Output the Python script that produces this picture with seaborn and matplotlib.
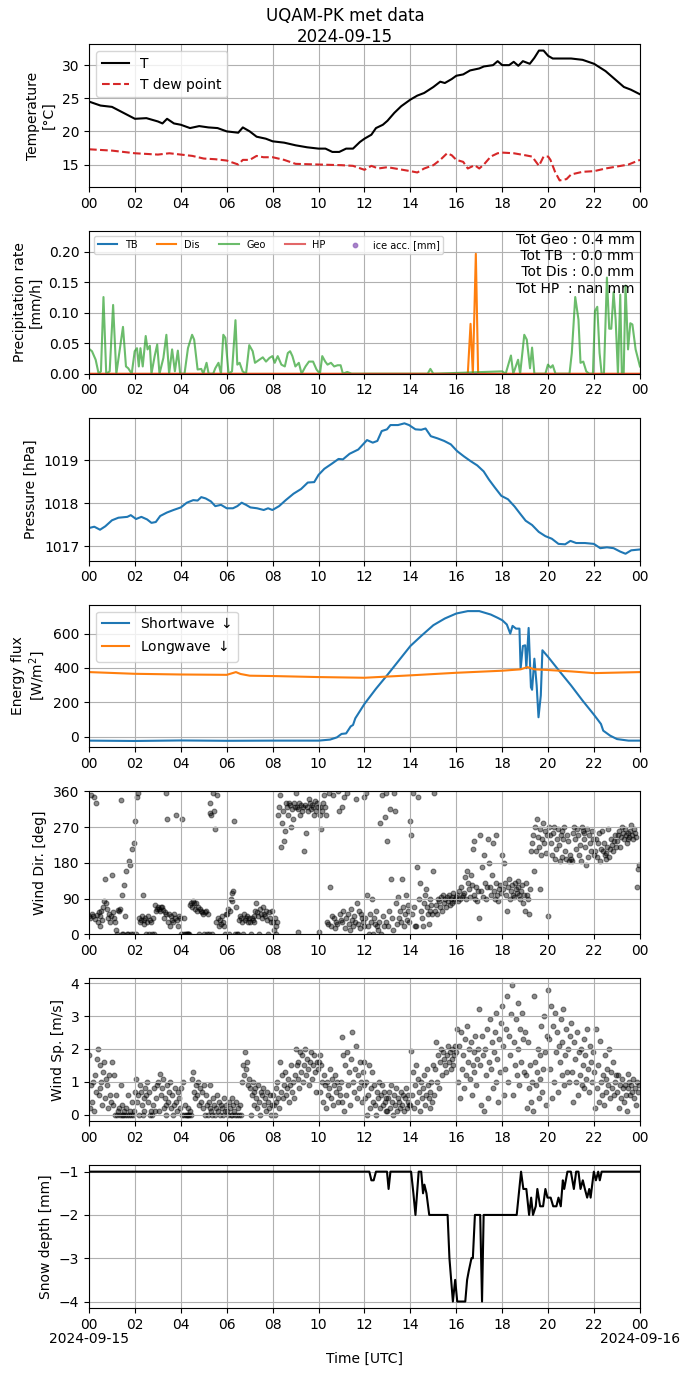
import numpy as np
import pandas as pd
import matplotlib
matplotlib.use("Agg")
import matplotlib.pyplot as plt
import matplotlib.dates as mdates
import matplotlib.transforms as mtransforms
import seaborn as sns

plt.rcParams['font.family'] = ['DejaVu Sans']

DAY = pd.Timestamp("2024-09-15")
TITLE = "UQAM-PK met data\n2024-09-15"
END_DATES = ["2024-09-15", "2024-09-16"]

# ---------------- Temperature (hour, value) ----------------
temp_pts = [(0, 24.5), (0.5, 23.9), (1, 23.7), (1.5, 22.8), (2, 21.9), (2.5, 22.0), (3, 21.5),
            (3.2, 21.2), (3.4, 21.9), (3.7, 21.2), (4, 21.0), (4.4, 20.5), (4.8, 20.8), (5.2, 20.6),
            (5.6, 20.5), (6.0, 20.0), (6.5, 19.8), (6.7, 20.6), (7.0, 20.0), (7.3, 19.2), (7.7, 18.9),
            (8.0, 18.5), (8.5, 18.3), (9.0, 17.9), (9.5, 17.6), (10.0, 17.4), (10.3, 17.4), (10.6, 16.9),
            (10.9, 16.9), (11.2, 17.4), (11.5, 17.4), (11.8, 18.4), (12.0, 18.9), (12.3, 19.5),
            (12.5, 20.5), (12.8, 21.0), (13.0, 21.6), (13.3, 22.8), (13.6, 23.8), (14.0, 24.8),
            (14.3, 25.4), (14.6, 25.8), (15.0, 26.7), (15.3, 27.5), (15.5, 27.3), (15.8, 27.9),
            (16.0, 28.4), (16.3, 28.6), (16.6, 29.2), (17.0, 29.5), (17.2, 29.8), (17.6, 30.0),
            (17.8, 30.6), (18.0, 30.0), (18.3, 30.0), (18.5, 30.5), (18.7, 29.9), (18.9, 30.6),
            (19.2, 30.2), (19.4, 31.1), (19.6, 32.2), (19.8, 32.2), (20.0, 31.4), (20.2, 31.0),
            (20.5, 31.0), (21.0, 31.0), (21.5, 30.8), (22.0, 30.2), (22.5, 29.1), (23.0, 27.6),
            (23.3, 26.7), (23.6, 26.3), (24.0, 25.6)]
dew_pts = [(0, 17.3), (0.5, 17.2), (1, 17.1), (2, 16.7), (3, 16.5), (3.5, 16.7), (4, 16.5), (4.5, 16.3),
           (5, 15.9), (5.5, 15.8), (6, 15.6), (6.5, 15.0), (6.7, 15.7), (7, 15.7), (7.3, 16.3),
           (7.6, 16.1), (8, 16.1), (8.5, 15.7), (9, 15.1), (10, 15.0), (11, 14.9), (11.5, 14.8),
           (12, 14.2), (12.3, 14.8), (12.6, 14.4), (13, 14.6), (13.5, 14.3), (14, 14.0), (14.3, 13.8),
           (14.6, 14.4), (15, 14.9), (15.3, 15.7), (15.6, 16.7), (15.8, 16.4), (16, 15.7), (16.3, 15.4),
           (16.5, 14.4), (16.8, 14.9), (17.0, 14.4), (17.2, 15.0), (17.5, 16.2), (17.8, 16.7),
           (18, 16.8), (18.5, 16.7), (19, 16.4), (19.3, 16.2), (19.6, 14.8), (19.8, 16.2), (20, 16.2),
           (20.1, 15.7), (20.3, 13.9), (20.5, 12.6), (20.8, 12.8), (21, 13.5), (21.5, 13.9), (22, 14.0),
           (22.5, 14.4), (23, 14.7), (23.5, 15.0), (24, 15.7)]

# ---------------- Precipitation rate (hour, mm/h) ----------------
tb_pts = [(0, 0.0), (24, 0.0)]
hp_pts = [(0, 0.0), (24, 0.0)]
dis_pts = [(0, 0.0), (16.5, 0.0), (16.62, 0.082), (16.72, 0.0), (16.85, 0.197), (16.95, 0.0), (24, 0.0)]
geo_pts = [(0.00, 0.041), (0.13, 0.037), (0.29, 0.023), (0.42, 0.0), (0.52, 0.004), (0.63, 0.126),
           (0.75, 0.0), (0.90, 0.004), (1.05, 0.113), (1.19, 0.0), (1.32, 0.034), (1.48, 0.077),
           (1.61, 0.012), (1.71, 0.009), (1.86, 0.0), (1.99, 0.037), (2.09, 0.042), (2.17, 0.012),
           (2.24, 0.042), (2.34, 0.012), (2.47, 0.062), (2.55, 0.040), (2.65, 0.046), (2.72, 0.0),
           (2.86, 0.029), (2.97, 0.048), (3.07, 0.0), (3.24, 0.026), (3.37, 0.064), (3.49, 0.0),
           (3.62, 0.040), (3.74, 0.004), (3.87, 0.038), (3.97, 0.0), (4.16, 0.0), (4.31, 0.042),
           (4.49, 0.064), (4.58, 0.056), (4.73, 0.007), (4.89, 0.008), (4.98, 0.0), (5.12, 0.018),
           (5.21, 0.0), (5.41, 0.0), (5.50, 0.009), (5.64, 0.018), (5.75, 0.0), (5.85, 0.064),
           (5.94, 0.059), (6.08, 0.0), (6.23, 0.004), (6.38, 0.088), (6.46, 0.015), (6.56, 0.018),
           (6.69, 0.004), (6.84, 0.0), (6.98, 0.047), (7.13, 0.037), (7.23, 0.018), (7.42, 0.023),
           (7.57, 0.027), (7.71, 0.020), (7.86, 0.026), (7.99, 0.029), (8.09, 0.018), (8.22, 0.029),
           (8.38, 0.015), (8.53, 0.012), (8.66, 0.034), (8.76, 0.037), (8.86, 0.029), (8.99, 0.012),
           (9.14, 0.018), (9.26, 0.0), (9.43, 0.012), (9.58, 0.020), (9.76, 0.020), (9.91, 0.007),
           (10.06, 0.0), (10.16, 0.029), (10.29, 0.020), (10.39, 0.015), (10.54, 0.018), (10.68, 0.012),
           (10.83, 0.014), (10.96, 0.014), (11.06, 0.0), (11.25, 0.003), (11.44, 0.0), (14.75, 0.0),
           (14.87, 0.008), (15.0, 0.0), (18.0, 0.004), (18.15, 0.0), (18.38, 0.030), (18.48, 0.0),
           (18.69, 0.023), (18.78, 0.0), (18.96, 0.064), (19.07, 0.056), (19.21, 0.009), (19.30, 0.043),
           (19.40, 0.0), (19.88, 0.0), (19.99, 0.015), (20.11, 0.010), (20.20, 0.014), (20.32, 0.0),
           (20.93, 0.0), (21.03, 0.034), (21.18, 0.126), (21.32, 0.089), (21.41, 0.018), (21.53, 0.020),
           (21.66, 0.004), (21.79, 0.0), (21.95, 0.0), (22.04, 0.103), (22.14, 0.110), (22.24, 0.034),
           (22.33, 0.0), (22.43, 0.0), (22.56, 0.158), (22.66, 0.074), (22.75, 0.074), (22.85, 0.134),
           (22.94, 0.089), (23.04, 0.0), (23.14, 0.130), (23.21, 0.0), (23.29, 0.0), (23.37, 0.145),
           (23.48, 0.040), (23.58, 0.083), (23.67, 0.081), (23.81, 0.040), (24.0, 0.012)]
totals_text = "Tot Geo : 0.4 mm\n Tot TB  : 0.0 mm\n Tot Dis : 0.0 mm\nTot HP  : nan mm"

# ---------------- Pressure (hour, hPa) ----------------
pres_pts = [(0, 1017.42), (0.23, 1017.45), (0.48, 1017.38), (0.71, 1017.46), (1, 1017.60), (1.28, 1017.66),
            (1.67, 1017.68), (1.82, 1017.72), (2.05, 1017.63), (2.28, 1017.68), (2.53, 1017.62),
            (2.72, 1017.54), (2.91, 1017.56), (3.1, 1017.70), (3.39, 1017.78), (3.68, 1017.84),
            (4, 1017.90), (4.26, 1018.01), (4.54, 1018.07), (4.73, 1018.06), (4.89, 1018.14),
            (5.08, 1018.11), (5.31, 1018.04), (5.5, 1017.93), (5.75, 1017.96), (6, 1017.88),
            (6.27, 1017.88), (6.46, 1017.93), (6.65, 1018.01), (6.84, 1017.96), (7.03, 1017.90),
            (7.32, 1017.88), (7.61, 1017.84), (7.8, 1017.88), (7.99, 1017.84), (8.28, 1017.93),
            (8.57, 1018.07), (8.91, 1018.22), (9.24, 1018.33), (9.53, 1018.48), (9.81, 1018.49),
            (10, 1018.66), (10.25, 1018.80), (10.58, 1018.92), (10.87, 1019.03), (11.06, 1019.02),
            (11.35, 1019.15), (11.73, 1019.25), (12.11, 1019.47), (12.36, 1019.41), (12.56, 1019.45),
            (12.75, 1019.68), (12.98, 1019.72), (13.13, 1019.82), (13.46, 1019.82), (13.74, 1019.86),
            (13.94, 1019.82), (14.22, 1019.72), (14.47, 1019.71), (14.66, 1019.74), (14.89, 1019.56),
            (15.18, 1019.51), (15.47, 1019.45), (15.76, 1019.37), (16.04, 1019.21), (16.33, 1019.09),
            (16.62, 1018.98), (16.91, 1018.88), (17.19, 1018.74), (17.42, 1018.55), (17.67, 1018.37),
            (17.96, 1018.17), (18.25, 1018.09), (18.54, 1017.92), (18.77, 1017.76), (19.02, 1017.59),
            (19.3, 1017.49), (19.59, 1017.33), (19.88, 1017.23), (20.16, 1017.17), (20.45, 1017.05),
            (20.74, 1017.04), (20.97, 1017.12), (21.22, 1017.07), (21.6, 1017.07), (21.99, 1017.05),
            (22.27, 1016.95), (22.56, 1016.97), (22.85, 1016.95), (23.14, 1016.87), (23.37, 1016.82),
            (23.62, 1016.90), (24, 1016.92)]

# ---------------- Radiation (hour, W/m2) ----------------
sw_pts = [(0, -23), (2, -25), (4, -22), (6, -24), (8, -23), (10, -23), (10.5, -17), (10.8, -4), (11, 16),
          (11.2, 19), (11.4, 60), (11.5, 68), (11.6, 107), (12, 191), (12.5, 279), (13, 360), (13.5, 444),
          (14, 528), (14.5, 590), (15, 649), (15.5, 688), (16, 717), (16.5, 731), (17, 731), (17.5, 711),
          (17.8, 692), (18, 678), (18.2, 653), (18.35, 600), (18.45, 645), (18.6, 629), (18.75, 629),
          (18.8, 395), (18.9, 528), (19.0, 532), (19.05, 399), (19.15, 633), (19.25, 288), (19.3, 273),
          (19.4, 454), (19.5, 298), (19.58, 113), (19.68, 240), (19.75, 503), (20, 464), (20.5, 380),
          (21, 298), (21.5, 210), (22, 127), (22.3, 74), (22.4, 35), (22.7, 6), (23, -14), (23.5, -23),
          (24, -23)]
lw_pts = [(0, 376), (2, 366), (4, 362), (6, 360), (6.4, 376), (6.6, 365), (7, 355), (8, 353), (10, 347),
          (12, 343), (14, 357), (16, 372), (18, 384), (18.8, 392), (19.1, 405), (19.4, 392), (20, 388),
          (21, 380), (22, 370), (24, 376)]

# ---------------- Wind: samples per hour (evenly spaced within each hour) ----------------
wdir_by_hour = [
    [45, 40, 352, 50, 45, 345, 38, 330, 48, 30, 55, 20, 45, 60, 35, 70, 85, 140, 80, 65, 40, 50, 30, 45],
    [150, 55, 40, 30, 10, 0, 62, 60, 65, 338, 0, 100, 0, 125, 45, 160, 0, 0, 185, 175, 0, 215, 0, 230],
    [285, 0, 345, 355, 40, 30, 35, 45, 100, 35, 25, 40, 0, 30, 45, 0, 35, 30, 0, 40, 0, 75, 60, 65],
    [70, 65, 60, 70, 68, 62, 40, 55, 50, 355, 290, 30, 50, 20, 45, 35, 30, 50, 40, 300, 35, 20, 45, 40],
    [0, 290, 0, 40, 0, 0, 0, 0, 0, 0, 75, 80, 70, 85, 78, 65, 80, 60, 70, 0, 65, 60, 55, 50],
    [0, 55, 60, 0, 50, 0, 305, 330, 300, 0, 355, 310, 265, 30, 350, 40, 20, 35, 25, 45, 30, 20, 0, 50],
    [50, 65, 0, 60, 90, 85, 105, 110, 285, 0, 70, 0, 0, 35, 45, 40, 30, 0, 50, 35, 40, 45, 30, 40],
    [30, 0, 40, 35, 45, 30, 60, 80, 55, 45, 0, 65, 50, 40, 70, 50, 45, 60, 35, 0, 55, 40, 30, 60],
    [30, 10, 40, 20, 0, 30, 300, 320, 350, 220, 280, 310, 235, 260, 330, 320, 300, 330, 325, 270, 315, 290, 330, 320],
    [355, 320, 315, 5, 330, 300, 325, 310, 320, 210, 325, 255, 320, 310, 340, 330, 315, 325, 320, 300, 335, 310, 330, 320],
    [5, 320, 300, 265, 310, 330, 350, 320, 300, 30, 25, 355, 120, 20, 45, 350, 40, 15, 30, 25, 360, 310, 50, 35],
    [320, 30, 60, 345, 15, 40, 355, 50, 25, 10, 65, 35, 20, 45, 30, 340, 80, 25, 60, 15, 50, 40, 30, 20],
    [345, 40, 355, 100, 20, 0, 50, 30, 90, 0, 40, 25, 60, 20, 10, 30, 280, 0, 350, 45, 20, 295, 355, 30],
    [235, 20, 60, 315, 140, 40, 10, 355, 310, 80, 25, 95, 40, 60, 30, 140, 70, 20, 50, 100, 35, 75, 60, 30],
    [285, 250, 50, 355, 70, 20, 22, 170, 345, 90, 130, 60, 40, 20, 80, 100, 115, 70, 50, 25, 90, 60, 75, 50],
    [160, 355, 60, 75, 50, 90, 85, 70, 95, 60, 100, 80, 90, 70, 95, 85, 100, 75, 90, 80, 95, 105, 85, 90],
    [95, 100, 85, 110, 90, 120, 95, 100, 105, 145, 90, 160, 130, 115, 95, 150, 125, 215, 100, 235, 90, 120, 85, 110],
    [40, 250, 110, 170, 95, 200, 130, 90, 120, 240, 180, 120, 100, 150, 230, 110, 90, 250, 130, 100, 85, 115, 125, 105],
    [200, 115, 180, 130, 100, 60, 120, 140, 90, 110, 125, 100, 95, 130, 115, 105, 120, 135, 100, 90, 110, 125, 80, 100],
    [60, 130, 100, 90, 50, 115, 210, 230, 250, 160, 270, 210, 290, 245, 220, 115, 265, 200, 240, 280, 230, 260, 205, 250],
    [45, 270, 250, 230, 200, 255, 270, 190, 215, 240, 265, 225, 185, 250, 260, 195, 240, 270, 210, 190, 250, 235, 185, 200],
    [190, 185, 255, 270, 240, 215, 265, 250, 200, 225, 185, 270, 260, 240, 255, 220, 175, 265, 195, 250, 230, 210, 260, 240],
    [200, 210, 240, 195, 230, 255, 185, 215, 260, 210, 230, 200, 190, 205, 220, 265, 195, 215, 240, 225, 210, 235, 250, 220],
    [235, 250, 260, 220, 245, 270, 255, 240, 265, 250, 230, 240, 255, 245, 260, 275, 250, 240, 265, 255, 245, 120, 165, 175],
]
wspd_by_hour = [
    [1.8, 0.2, 0.9, 0.4, 1.0, 0.1, 1.2, 0.7, 1.7, 2.0, 0.6, 1.5, 0.8, 1.0, 0.3, 1.3, 1.6, 0.5, 1.1, 0.9, 0.2, 1.2, 0.6, 0.4],
    [1.6, 0.3, 1.2, 0.0, 0.6, 0.0, 0.1, 0.2, 0.0, 0.9, 0.0, 0.3, 0.0, 0.1, 0.0, 0.2, 0.0, 0.6, 0.0, 0.1, 0.0, 0.4, 0.0, 0.1],
    [0.7, 1.1, 0.4, 0.6, 0.0, 0.9, 0.7, 0.3, 0.0, 0.1, 0.5, 0.8, 0.6, 1.0, 0.4, 0.7, 0.0, 0.1, 0.0, 0.3, 0.8, 0.1, 0.5, 0.9],
    [1.0, 0.1, 1.25, 0.6, 0.8, 1.1, 0.2, 0.5, 0.0, 0.3, 0.9, 0.4, 0.7, 1.0, 0.2, 0.6, 0.0, 0.3, 0.8, 0.4, 0.1, 0.7, 0.5, 0.2],
    [0.8, 0.0, 1.0, 0.0, 0.3, 0.0, 0.0, 0.2, 0.0, 0.0, 0.1, 0.0, 1.1, 1.3, 0.7, 0.5, 0.9, 0.6, 1.0, 0.3, 0.8, 0.4, 0.7, 0.2],
    [0.9, 0.0, 0.6, 0.3, 0.0, 0.4, 0.2, 0.9, 0.1, 0.0, 0.5, 0.3, 0.0, 0.2, 0.6, 0.1, 0.4, 0.0, 0.3, 0.2, 0.0, 0.5, 0.1, 0.3],
    [0.1, 0.0, 0.4, 0.2, 0.0, 0.5, 0.0, 0.3, 0.1, 0.0, 0.4, 0.0, 0.2, 0.0, 0.3, 0.0, 1.0, 1.5, 1.2, 1.9, 1.4, 1.6, 0.9, 1.1],
    [0.8, 0.0, 0.6, 1.0, 0.7, 0.3, 0.8, 0.5, 0.2, 0.9, 0.4, 0.0, 0.7, 0.6, 0.8, 0.3, 0.5, 0.1, 0.7, 0.4, 0.2, 0.6, 0.0, 0.3],
    [0.6, 0.3, 0.0, 0.8, 0.4, 1.0, 0.5, 0.2, 1.6, 0.7, 1.2, 0.5, 0.9, 1.3, 0.6, 0.8, 1.1, 0.4, 0.9, 1.5, 0.7, 1.0, 0.5, 1.2],
    [2.0, 1.5, 1.1, 1.6, 0.8, 1.9, 1.3, 1.8, 1.0, 1.5, 2.0, 1.2, 1.7, 1.4, 0.9, 1.6, 1.9, 1.1, 1.5, 1.8, 1.3, 0.7, 1.6, 1.4],
    [1.6, 1.8, 0.7, 1.5, 1.0, 0.4, 1.2, 0.9, 0.2, 1.0, 0.6, 0.8, 1.4, 0.5, 1.1, 0.3, 0.9, 1.2, 0.7, 1.0, 0.4, 0.8, 0.6, 1.0],
    [0.4, 2.35, 1.8, 0.1, 1.5, 0.6, 1.9, 0.9, 1.3, 0.3, 1.7, 2.5, 1.0, 0.7, 1.4, 2.1, 0.5, 1.2, 0.8, 1.6, 1.0, 0.4, 1.3, 0.9],
    [1.6, 0.5, 1.0, 0.0, 0.6, 1.5, 0.2, 0.8, 1.3, 0.4, 0.9, 0.3, 0.0, 0.7, 0.5, 1.0, 0.2, 0.6, 0.9, 0.3, 0.7, 0.4, 0.1, 0.5],
    [0.1, 0.5, 0.7, 0.2, 0.9, 0.4, 0.0, 0.6, 0.3, 0.8, 0.1, 0.5, 0.4, 0.2, 0.7, 0.3, 0.6, 0.1, 0.5, 0.8, 0.2, 0.4, 0.6, 0.3],
    [0.3, 1.95, 0.6, 1.3, 0.2, 0.9, 1.5, 0.4, 1.1, 0.7, 0.1, 1.0, 0.5, 0.8, 1.2, 0.3, 0.6, 1.4, 0.9, 0.5, 0.2, 0.7, 1.0, 0.4],
    [1.5, 0.6, 1.4, 2.2, 1.0, 1.8, 0.8, 1.6, 2.0, 1.2, 1.9, 1.7, 1.5, 1.3, 1.8, 2.1, 1.6, 1.9, 1.4, 2.0, 1.7, 1.5, 1.8, 2.1],
    [1.9, 2.6, 1.0, 2.1, 0.5, 2.5, 1.4, 1.8, 0.8, 2.3, 1.2, 2.7, 1.6, 2.0, 1.1, 2.2, 0.6, 1.5, 1.9, 1.3, 2.4, 0.9, 1.7, 2.0],
    [3.2, 1.5, 0.3, 2.4, 1.8, 0.1, 2.0, 1.2, 2.6, 0.5, 1.6, 2.9, 1.4, 2.2, 0.8, 1.9, 2.5, 1.0, 3.1, 1.7, 0.4, 2.3, 1.3, 2.8],
    [3.3, 2.1, 0.6, 1.4, 2.6, 3.6, 1.0, 2.4, 1.8, 3.05, 3.95, 0.6, 2.2, 1.5, 2.9, 1.2, 3.4, 2.0, 0.9, 2.6, 1.6, 3.1, 2.3, 1.3],
    [2.5, 1.2, 0.2, 2.2, 0.8, 1.5, 0.4, 1.0, 0.1, 3.6, 1.6, 0.9, 1.3, 2.0, 0.5, 1.8, 1.1, 2.7, 0.7, 1.4, 3.0, 1.9, 0.3, 2.4],
    [3.8, 2.3, 1.4, 3.3, 0.5, 2.7, 1.0, 3.1, 1.9, 2.5, 0.7, 2.1, 1.6, 2.9, 1.2, 2.2, 3.2, 0.9, 1.8, 2.6, 1.3, 2.0, 1.0, 2.4],
    [2.8, 1.3, 0.4, 2.2, 1.7, 1.0, 2.5, 0.6, 1.9, 1.2, 2.0, 0.9, 1.5, 2.3, 0.8, 1.8, 1.1, 2.6, 1.4, 0.7, 2.1, 1.6, 1.0, 1.9],
    [1.3, 0.2, 2.6, 0.8, 1.5, 0.4, 2.25, 1.0, 0.6, 1.2, 0.3, 1.8, 1.1, 0.7, 1.4, 0.9, 2.0, 0.5, 1.3, 0.8, 1.6, 0.6, 1.0, 1.2],
    [0.7, 1.2, 0.2, 0.9, 0.5, 1.1, 0.8, 0.4, 0.9, 0.6, 0.1, 1.25, 0.8, 1.0, 0.6, 0.9, 0.7, 1.1, 0.5, 0.8, 0.3, 1.0, 0.7, 0.9],
]

# ---------------- Snow depth (hour, mm) ----------------
snow_pts = [(0, -1), (12.21, -1), (12.3, -1.2), (12.4, -1.2), (12.5, -1), (12.98, -1), (13.05, -1.4),
            (13.13, -1), (14.03, -1), (14.13, -1.5), (14.22, -2), (14.36, -1), (14.47, -1), (14.55, -1.5),
            (14.61, -1.3), (14.7, -1.5), (14.82, -2), (15.62, -2), (15.7, -3), (15.85, -4), (15.95, -3.5),
            (16.04, -4), (16.39, -4), (16.47, -3.5), (16.54, -3.3), (16.66, -3), (16.72, -3), (16.81, -2),
            (17.0, -2), (17.04, -2), (17.12, -4), (17.19, -2), (18.63, -2), (18.82, -1), (18.92, -1.4),
            (19.05, -1.4), (19.17, -2), (19.26, -1.6), (19.34, -2), (19.46, -1.8), (19.53, -1.4),
            (19.65, -1.8), (19.78, -1.8), (19.88, -1.4), (19.97, -1.6), (20.11, -1.6), (20.22, -1.8),
            (20.36, -1.8), (20.45, -1.6), (20.55, -1.8), (20.64, -1.2), (20.7, -1.4), (20.84, -1),
            (20.99, -1), (21.12, -1.4), (21.22, -1), (21.32, -1), (21.41, -1.4), (21.51, -1.2),
            (21.6, -1.4), (21.7, -1.6), (21.79, -1.4), (21.85, -1.6), (21.99, -1), (22.08, -1.2),
            (22.18, -1), (22.25, -1.2), (22.33, -1), (24, -1)]


def to_df(pts):
    a = np.array(pts, dtype=float)
    return pd.DataFrame({"time": DAY + pd.to_timedelta(a[:, 0], unit="h"), "val": a[:, 1]})


def hourly_df(rows):
    hours, vals = [], []
    for h, row in enumerate(rows):
        n = len(row)
        for i, v in enumerate(row):
            hours.append(h + i / n)
            vals.append(v)
    return pd.DataFrame({"time": DAY + pd.to_timedelta(np.array(hours), unit="h"),
                         "val": np.array(vals, dtype=float)})


fig, axes = plt.subplots(7, 1, figsize=(6.9, 13.77), dpi=100)
fig.subplots_adjust(left=0.129, right=0.9275, top=0.968, bottom=0.0501, hspace=0.308)

# Temperature
ax = axes[0]
sns.lineplot(data=to_df(temp_pts), x="time", y="val", ax=ax, color="black", label="T")
sns.lineplot(data=to_df(dew_pts), x="time", y="val", ax=ax, color="tab:red", linestyle="--", label="T dew point")
ax.legend(loc="upper left")
ax.set_ylabel("Temperature\n[°C]")

# Precipitation
ax = axes[1]
sns.lineplot(data=to_df(tb_pts), x="time", y="val", ax=ax, color="tab:blue", label="TB")
sns.lineplot(data=to_df(dis_pts), x="time", y="val", ax=ax, color="tab:orange", label="Dis")
sns.lineplot(data=to_df(geo_pts), x="time", y="val", ax=ax, color="tab:green", alpha=0.7, label="Geo")
sns.lineplot(data=to_df(hp_pts), x="time", y="val", ax=ax, color="tab:red", alpha=0.7, label="HP")
ax.scatter([], [], color="tab:purple", alpha=0.8, s=10, label="ice acc. [mm]")
ax.legend(loc="upper left", ncol=5, fontsize=7)
ax.set_ylim(0, 0.2346)
ax.set_ylabel("Precipitation rate\n[mm/h]")
ax.text(0.99, 0.985, totals_text, transform=ax.transAxes, ha="right", va="top", multialignment="right",
        fontsize=10)

# Pressure
ax = axes[2]
sns.lineplot(data=to_df(pres_pts), x="time", y="val", ax=ax, color="tab:blue")
ax.set_ylim(1016.66, 1019.99)
ax.set_ylabel("Pressure [hPa]")

# Radiation
ax = axes[3]
sns.lineplot(data=to_df(sw_pts), x="time", y="val", ax=ax, color="tab:blue", label="Shortwave $\\downarrow$")
sns.lineplot(data=to_df(lw_pts), x="time", y="val", ax=ax, color="tab:orange", label="Longwave $\\downarrow$")
ax.legend(loc="upper left")
ax.set_ylabel("Energy flux\n[W/m$^2$]")

# Wind direction
ax = axes[4]
sns.scatterplot(data=hourly_df(wdir_by_hour), x="time", y="val", ax=ax, color="black", alpha=0.45,
                s=12, edgecolor="black", linewidth=0.8)
ax.set_ylim(0, 360)
ax.set_yticks([0, 90, 180, 270, 360])
ax.set_ylabel("Wind Dir. [deg]")

# Wind speed
ax = axes[5]
sns.scatterplot(data=hourly_df(wspd_by_hour), x="time", y="val", ax=ax, color="black", alpha=0.45,
                s=12, edgecolor="black", linewidth=0.8)
ax.set_ylabel("Wind Sp. [m/s]")

# Snow depth
ax = axes[6]
sns.lineplot(data=to_df(snow_pts), x="time", y="val", ax=ax, color="black")
ax.set_ylabel("Snow depth [mm]")

x0 = DAY
x1 = DAY + pd.Timedelta(days=1)

for i, ax in enumerate(axes):
    ax.set_xlim(x0, x1)
    ax.xaxis.set_major_locator(mdates.HourLocator(interval=2))
    ax.xaxis.set_major_formatter(mdates.DateFormatter("%H"))
    ax.set_xlabel("")
    ax.grid(True)

# date labels under the first and last ticks of the bottom panel
ax = axes[6]
trans = mtransforms.blended_transform_factory(ax.transData, ax.transAxes)
for xd, lbl in zip([x0, x1], END_DATES):
    ax.text(mdates.date2num(xd), -0.17, lbl, transform=trans, ha="center", va="top", fontsize=10)
ax.set_xlabel("Time [UTC]")
ax.xaxis.set_label_coords(0.5, -0.31)
ax.xaxis.label.set_va("top")

fig.suptitle(TITLE, y=0.995, fontsize=12)
fig.savefig("out.png", dpi=100)
